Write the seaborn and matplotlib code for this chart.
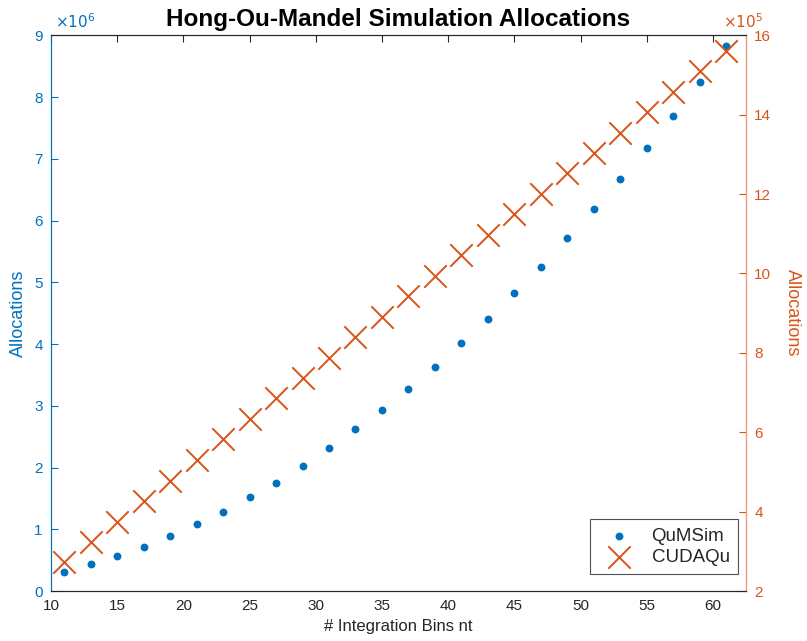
import matplotlib
matplotlib.use("Agg")
import matplotlib.pyplot as plt
import seaborn as sns
import pandas as pd

nt = [11, 13, 15, 17, 19, 21, 23, 25, 27, 29, 31, 33, 35, 37, 39, 41, 43, 45,
      47, 49, 51, 53, 55, 57, 59, 61]
qumsim = [0.31, 0.43, 0.56, 0.71, 0.885, 1.08, 1.28, 1.52, 1.75, 2.02, 2.32,
          2.62, 2.93, 3.27, 3.63, 4.01, 4.40, 4.82, 5.25, 5.71, 6.18, 6.67,
          7.17, 7.70, 8.25, 8.82]  # x1e6
cudaqu = [2.72, 3.24, 3.75, 4.27, 4.78, 5.30, 5.82, 6.33, 6.85, 7.36, 7.88,
          8.39, 8.91, 9.43, 9.94, 10.46, 10.97, 11.49, 12.00, 12.52, 13.04,
          13.55, 14.07, 14.58, 15.10, 15.61]  # x1e5

df = pd.DataFrame({"nt": nt,
                   "QuMSim": [v * 1e6 for v in qumsim],
                   "CUDAQu": [v * 1e5 for v in cudaqu]})

sns.set_style("white")
plt.rcParams['font.family'] = ['Liberation Sans', 'DejaVu Sans']

blue = "#0072BD"
orange = "#D95319"

fig = plt.figure(figsize=(8.07, 6.41), dpi=100)
ax = fig.add_axes([0.0632, 0.078, 0.8612, 0.867])
ax2 = ax.twinx()

sns.scatterplot(data=df, x="nt", y="QuMSim", ax=ax, color=blue, s=32,
                edgecolor=blue, linewidth=0, label="QuMSim", legend=False)
sns.scatterplot(data=df, x="nt", y="CUDAQu", ax=ax2, color=orange, marker="x",
                s=260, linewidth=1.4, label="CUDAQu", legend=False)

ax.set_xlim(10, 62.5)
ax.set_ylim(0, 9e6)
ax2.set_ylim(2e5, 16e5)
ax.set_xticks(range(10, 61, 5))
ax.set_yticks([i * 1e6 for i in range(10)])
ax2.set_yticks([i * 1e5 for i in range(2, 17, 2)])
ax.set_yticklabels([str(i) for i in range(10)])
ax2.set_yticklabels([str(i) for i in range(2, 17, 2)])

fig.text(0.0632 + 0.005, 0.952, r"$\times10^{6}$", color=blue, fontsize=11,
         ha="left", va="bottom")
fig.text(0.0632 + 0.8612 - 0.028, 0.952, r"$\times10^{5}$", color=orange,
         fontsize=11, ha="left", va="bottom")

for a in (ax, ax2):
    for s in a.spines.values():
        s.set_linewidth(0.8)
        s.set_color("#262626")
        s.set_visible(True)
ax.spines["left"].set_color(blue)
ax2.spines["left"].set_color(blue)
ax2.spines["right"].set_color("#EE9A73")

ax.tick_params(axis="x", direction="in", top=True, length=5, labelsize=11,
               colors="#262626", pad=6)
ax.tick_params(axis="y", direction="in", length=5, labelsize=11,
               colors=blue, pad=6)
ax2.tick_params(axis="y", direction="in", length=5, labelsize=11,
                colors=orange, pad=6)

ax.set_xlabel("# Integration Bins nt", fontsize=12, color="#262626")
ax.set_ylabel("Allocations", fontsize=13, color=blue, labelpad=5)
ax2.set_ylabel("Allocations", fontsize=13, color=orange, rotation=270,
               labelpad=21)
ax.set_title("Hong-Ou-Mandel Simulation Allocations", fontsize=17.5,
             fontweight="bold", pad=7, color="black")

h1, l1 = ax.get_legend_handles_labels()
h2, l2 = ax2.get_legend_handles_labels()
leg = ax2.legend(h1 + h2, l1 + l2, loc="lower right",
                 bbox_to_anchor=(738 / 807, (641 - 574) / 641),
                 bbox_transform=fig.transFigure, borderaxespad=0,
                 fontsize=13.5, frameon=True, fancybox=False,
                 edgecolor="#262626", handletextpad=0.62, borderpad=0.45,
                 labelspacing=0.2, handlelength=2.2)
leg.get_frame().set_linewidth(0.8)

fig.savefig("out.png", dpi=100)
